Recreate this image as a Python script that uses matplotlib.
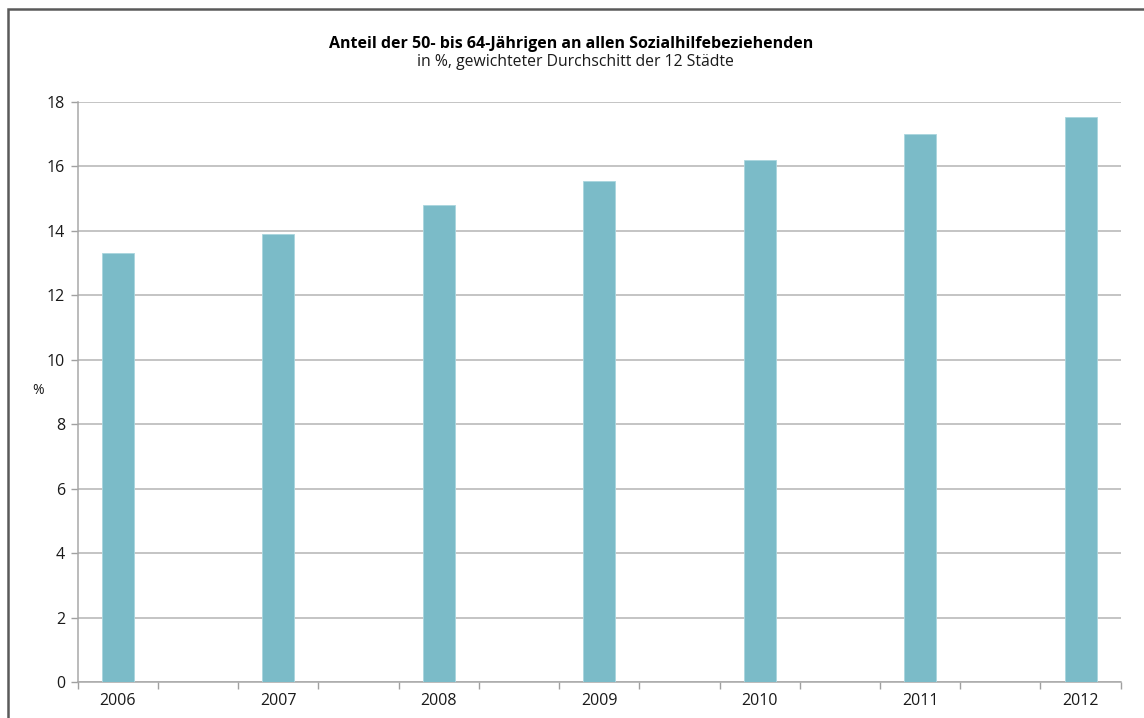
import matplotlib
matplotlib.use("Agg")
import matplotlib.pyplot as plt
from matplotlib.patches import Rectangle
from matplotlib.ticker import FixedLocator, NullFormatter

years = ["2006", "2007", "2008", "2009", "2010", "2011", "2012"]
values = [13.31, 13.90, 14.79, 15.55, 16.21, 17.01, 17.54]
yticks = [0, 2, 4, 6, 8, 10, 12, 14, 16, 18]
title = "Anteil der 50- bis 64-Jährigen an allen Sozialhilfebeziehenden"
subtitle = "in %, gewichteter Durchschitt der 12 Städte"

plt.rcParams['font.family'] = ['Open Sans', 'DejaVu Sans']

W, H = 1144, 718
fig = plt.figure(figsize=(W / 100, H / 100), dpi=100)
fig.patch.set_facecolor("white")

# outer frame (cropped at right/bottom)
fig.patches.append(Rectangle((7.5 / W, -0.05), 1.2, (H - 8.5) / H + 0.05,
                             transform=fig.transFigure, fill=False,
                             edgecolor="#5a5a5a", linewidth=1.8))

left, right = 77.7 / W, 1120.7 / W
bottom, top = 1 - 682 / H, 1 - 102 / H
ax = fig.add_axes([left, bottom, right - left, top - bottom])

# 13 category slots; bars every second slot
n_slots = 2 * len(years) - 1
positions = [2 * i for i in range(len(years))]
ax.bar(positions, values, width=0.4, color="#7bbbc8", edgecolor="#a9d6de",
       linewidth=0.6, zorder=3)

ax.set_xlim(-0.5, n_slots - 0.5)
ax.set_ylim(0, 18)
ax.set_yticks(yticks)
ax.set_yticklabels([str(v) for v in yticks])
ax.set_xticks(positions)
ax.set_xticklabels(years)
ax.xaxis.set_minor_locator(FixedLocator([k - 0.5 for k in range(n_slots + 1)]))
ax.xaxis.set_minor_formatter(NullFormatter())
ax.tick_params(axis="x", which="major", length=0, pad=8, labelsize=11.5,
               colors="#1a1a1a")
ax.tick_params(axis="x", which="minor", length=5, color="#a0a0a0", width=1)
ax.tick_params(axis="y", length=5, color="#a0a0a0", width=1, pad=4,
               labelsize=11.5, labelcolor="#1a1a1a")

ax.grid(axis="y", color="#b4b4b4", linewidth=1.1, zorder=0)
ax.set_axisbelow(True)
for s in ["top", "right"]:
    ax.spines[s].set_visible(False)
for s in ["left", "bottom"]:
    ax.spines[s].set_color("#a8a8a8")
    ax.spines[s].set_linewidth(1.1)

fig.text(38 / W, 1 - 390 / H, "%", fontsize=10, ha="center", va="center",
         color="#1a1a1a")
fig.text(571 / W, 1 - 44 / H, title, fontsize=11.5, fontweight="bold",
         ha="center", va="center", color="#000000")
fig.text(575 / W, 1 - 62 / H, subtitle, fontsize=11.3, ha="center",
         va="center", color="#1a1a1a")

fig.savefig("out.png", dpi=100, facecolor="white")
